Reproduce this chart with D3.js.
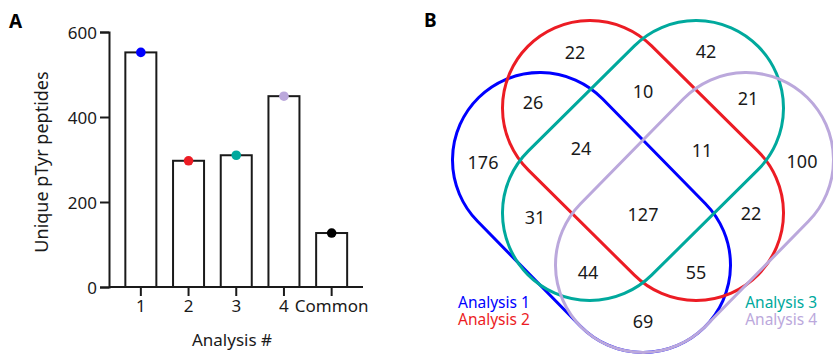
<!DOCTYPE html>
<html>
<head>
<meta charset="utf-8">
<script src="https://cdn.jsdelivr.net/npm/d3@7"></script>
<style>
  body { margin: 0; background: #fff; }
  svg { display: block; font-family: "Noto Sans", sans-serif; }
</style>
</head>
<body>
<div class="container"></div>
<script>
// bar chart data
const categories = ["1", "2", "3", "4", "Common"];
const peptideCounts = [552, 297, 310, 449, 127];
const dotColors = ["#0000ff", "#ec1c24", "#00a99d", "#bba8dc", "#000000"];
const yTicks = [0, 200, 400, 600];

// venn data
const setNames = ["Analysis 1", "Analysis 2", "Analysis 3", "Analysis 4"];
const setColors = ["#0000ff", "#ec1c24", "#00a99d", "#bba8dc"];
const regionSets = ["2", "3", "12", "23", "34", "1", "123", "234", "4", "13", "1234", "24", "134", "124", "14"];
const regionCounts = [22, 42, 26, 10, 21, 176, 24, 11, 100, 31, 127, 22, 44, 55, 69];

const width = 833, height = 362;

const svg = d3.select(".container").append("svg")
  .attr("width", width)
  .attr("height", height);

// ---------- panel A ----------
const margin = { top: 32, left: 109, bottom: 287, right: 363 };

const x = d3.scaleBand()
  .domain(categories)
  .range([117, 355.5])
  .paddingInner(0.35)
  .paddingOuter(0.175);

const y = d3.scaleLinear()
  .domain([0, 600])
  .range([margin.bottom, margin.top]);

const gA = svg.append("g");

gA.append("text")
  .attr("x", 9).attr("y", 28)
  .style("font-weight", "bold").style("font-size", "19px")
  .text("A");

// bars
gA.selectAll("rect.bar")
  .data(peptideCounts)
  .join("rect")
  .attr("class", "bar")
  .attr("x", (d, i) => x(categories[i]))
  .attr("y", d => y(d))
  .attr("width", x.bandwidth())
  .attr("height", d => y(0) - y(d))
  .attr("fill", "#fff")
  .attr("stroke", "#1a1a1a")
  .attr("stroke-width", 2);

gA.selectAll("circle.dot")
  .data(peptideCounts)
  .join("circle")
  .attr("class", "dot")
  .attr("cx", (d, i) => x(categories[i]) + x.bandwidth() / 2)
  .attr("cy", d => y(d))
  .attr("r", 4.8)
  .attr("fill", (d, i) => dotColors[i]);

// y axis
const yAxis = gA.append("g")
  .attr("transform", `translate(${margin.left},0)`)
  .call(d3.axisLeft(y).tickValues(yTicks).tickSize(9).tickPadding(3));

// x axis
const xAxis = gA.append("g")
  .attr("transform", `translate(0,${margin.bottom})`)
  .call(d3.axisBottom(x).tickSize(9).tickSizeOuter(0).tickPadding(4));
xAxis.select(".domain").attr("d", `M${margin.left},0H${margin.right}`);

[yAxis, xAxis].forEach(ax => {
  ax.selectAll("path, line").attr("stroke", "#1a1a1a").attr("stroke-width", 2);
  ax.selectAll("text")
    .attr("fill", "#1a1a1a")
    .style("font-size", "17px")
    .style("font-family", "Noto Sans, sans-serif");
});
yAxis.selectAll("text").attr("dy", "0.36em");

gA.append("text")
  .attr("x", 232).attr("y", 346)
  .attr("text-anchor", "middle")
  .style("font-size", "17px")
  .attr("fill", "#1a1a1a")
  .text("Analysis #");

gA.append("text")
  .attr("transform", "translate(48,162) rotate(-90)")
  .attr("text-anchor", "middle")
  .style("font-size", "18px")
  .attr("fill", "#1a1a1a")
  .text("Unique pTyr peptides");

// ---------- panel B ----------
const cx = 643;
const r = 87.5;
// stadium end-cap centres, relative to venn centre x
const caps = [
  [[-103, 160], [0, 265]],
  [[-53, 108], [53, 213]],
  [[53, 108], [-53, 213]],
  [[103, 160], [0, 265]]
];
// label positions, relative to venn centre x
const labelPos = {
  "2": [-68, 53], "3": [63, 52], "12": [-110, 103], "23": [0, 92], "34": [105, 99],
  "1": [-160, 163], "123": [-62, 149], "234": [59, 151], "4": [159, 162],
  "13": [-108, 218], "1234": [0, 215], "24": [108, 214],
  "134": [-55, 273], "124": [53, 273], "14": [0, 322]
};

function stadium(c1, c2) {
  const p = d3.path();
  const a = Math.atan2(c2[1] - c1[1], c2[0] - c1[0]);
  const nx = Math.cos(a - Math.PI / 2), ny = Math.sin(a - Math.PI / 2);
  p.moveTo(c1[0] + r * nx, c1[1] + r * ny);
  p.lineTo(c2[0] + r * nx, c2[1] + r * ny);
  p.arc(c2[0], c2[1], r, a - Math.PI / 2, a + Math.PI / 2);
  p.lineTo(c1[0] - r * nx, c1[1] - r * ny);
  p.arc(c1[0], c1[1], r, a + Math.PI / 2, a + 3 * Math.PI / 2);
  p.closePath();
  return p.toString();
}

const gB = svg.append("g");

gB.append("text")
  .attr("x", 424).attr("y", 27)
  .style("font-weight", "bold").style("font-size", "19px")
  .text("B");

const gV = gB.append("g").attr("transform", `translate(${cx},0)`);

gV.selectAll("path.set")
  .data(caps)
  .join("path")
  .attr("class", "set")
  .attr("d", d => stadium(d[0], d[1]))
  .attr("fill", "none")
  .attr("stroke", (d, i) => setColors[i])
  .attr("stroke-width", 3);

gV.selectAll("text.count")
  .data(regionCounts)
  .join("text")
  .attr("class", "count")
  .attr("x", (d, i) => labelPos[regionSets[i]][0])
  .attr("y", (d, i) => labelPos[regionSets[i]][1])
  .attr("dy", "0.36em")
  .attr("text-anchor", "middle")
  .style("font-size", "18px")
  .attr("fill", "#1a1a1a")
  .text(d => d);

// legend
const legendPos = [[458, 302.5, "start"], [458, 319, "start"], [817, 302.5, "end"], [817, 319, "end"]];
gB.selectAll("text.legend")
  .data(setNames)
  .join("text")
  .attr("class", "legend")
  .attr("x", (d, i) => legendPos[i][0])
  .attr("y", (d, i) => legendPos[i][1])
  .attr("dy", "0.36em")
  .attr("text-anchor", (d, i) => legendPos[i][2])
  .style("font-size", "15.5px")
  .attr("fill", (d, i) => setColors[i])
  .text(d => d);
</script>
</body>
</html>
